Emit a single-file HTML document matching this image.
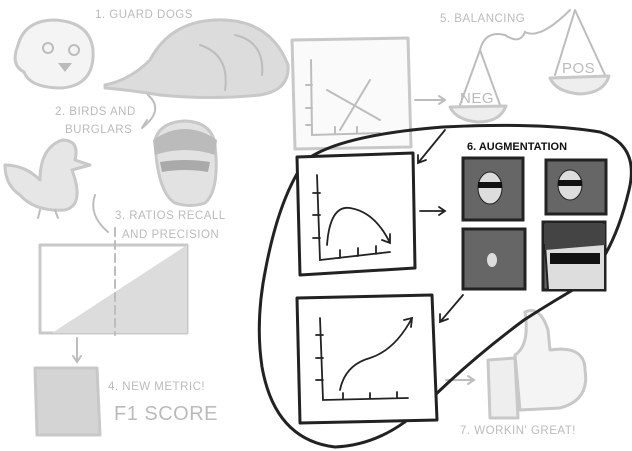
<!DOCTYPE html>
<html><head><meta charset="utf-8"><style>
html,body{margin:0;padding:0;background:#fff;}
svg{display:block;font-family:"Liberation Sans",sans-serif;}
.lt{fill:none;stroke:#c8c8c8;stroke-width:3;stroke-linecap:round;stroke-linejoin:round}
.lt2{fill:none;stroke:#bdbdbd;stroke-width:2;stroke-linecap:round}
.dk{fill:none;stroke:#222;stroke-width:3;stroke-linecap:round;stroke-linejoin:round}
.dk2{fill:none;stroke:#222;stroke-width:1.8;stroke-linecap:round}
.gt{fill:#bbb;font-size:11.5px;letter-spacing:0.5px}
</style></head><body>
<svg width="632" height="451" viewBox="0 0 632 451">
<text class="gt" x="95" y="18">1. GUARD DOGS</text>
<g>
<path class="lt" style="fill:#f4f4f4" d="M18,45 Q25,20 55,20 Q90,22 93,50 Q95,85 62,88 Q30,88 24,72 Q10,65 18,45Z"/>
<circle cx="48" cy="48" r="5" class="lt2"/><circle cx="74" cy="50" r="5" class="lt2"/>
<path d="M58,63 L72,63 L65,72Z" fill="#bbb"/>
</g>
<g>
<path class="lt" style="fill:#dcdcdc" d="M105,85 Q130,80 150,60 Q170,22 215,20 Q270,18 288,65 Q290,90 260,95 Q210,100 160,95 Q130,90 105,88Z"/>
<path class="lt2" d="M235,35 Q265,42 262,75 M200,45 Q230,55 225,90"/>
</g>
<g>
<path class="lt" style="fill:#fafafa" d="M292,40 L408,38 L411,147 L295,149Z"/>
<path class="lt2" d="M311,60 L312,135 L380,133 M312,85 L306,85 M312,108 L306,108 M312,125 L306,125 M335,133 L335,127 M357,133 L357,127"/>
<path class="lt2" d="M327,90 L380,120 M340,130 L370,80"/>
</g>
<path class="lt2" d="M415,100 L445,100 M439,96 L445,100 L439,104"/>
<text class="gt" x="440" y="22">5. BALANCING</text>
<g>
<path class="lt2" d="M480,50 Q485,30 505,35 Q520,45 525,32 Q540,40 570,10 M480,50 L460,105 M480,50 L500,105 M575,10 L555,75 M575,10 L605,75"/>
<path class="lt" style="fill:#eee" d="M450,107 L506,106 Q500,122 478,122 Q456,120 450,107Z"/>
<path class="lt" style="fill:#eee" d="M550,78 L609,76 Q604,93 580,94 Q556,92 550,78Z"/>
<text class="gt" style="font-size:15px" x="460" y="103">NEG</text>
<text class="gt" style="font-size:15px" x="562" y="73">POS</text>
</g>
<text class="gt" x="55" y="115">2. BIRDS AND</text>
<text class="gt" x="65" y="133">BURGLARS</text>
<path class="lt2" d="M148,95 Q165,110 142,128 M142,128 L147,120"/>
<g>
<path class="lt" style="fill:#e6e6e6" d="M5,165 Q25,165 40,180 Q40,148 62,140 Q80,140 75,160 L90,165 L72,170 Q85,205 65,210 Q35,212 20,195 Q5,185 5,165Z"/>
<path class="lt2" d="M40,210 L38,218 M55,210 L58,218"/>
</g>
<g>
<path class="lt" style="fill:#e2e2e2" d="M155,140 Q160,122 185,121 Q212,122 215,145 Q220,190 205,203 Q190,208 175,203 Q157,192 155,140Z"/>
<path d="M153,140 Q185,118 217,140 L215,155 Q185,145 155,155Z" fill="#bbb"/>
<path d="M160,162 Q185,158 210,162 L208,172 Q185,168 162,172Z" fill="#aaa"/>
</g>
<text class="gt" x="115" y="219">3. RATIOS RECALL</text>
<text class="gt" x="122" y="238">AND PRECISION</text>
<path class="lt2" d="M95,195 Q88,215 108,232"/>
<g>
<path class="lt" style="fill:#fff" d="M40,245 L187,245 L187,333 L40,333Z"/>
<path d="M52,333 L187,245 L187,333Z" fill="#dcdcdc"/>
<path class="lt2" d="M115,228 L115,335" stroke-dasharray="8,5"/>
</g>
<path class="lt2" d="M77,338 L77,362 M73,356 L77,362 L81,356"/>
<path class="lt" style="fill:#d4d4d4" d="M35,368 L97,368 L100,435 L37,435Z"/>
<text class="gt" x="108" y="390">4. NEW METRIC!</text>
<text class="gt" style="font-size:20px" x="114" y="420">F1 SCORE</text>
<g>
<path class="lt" style="fill:#f4f4f4" d="M525,312 Q540,305 548,330 L550,350 Q585,345 585,370 Q590,400 560,408 L520,410 L515,355 Q530,345 525,312Z"/>
<path class="lt" style="fill:#eee" d="M488,360 L515,358 L518,418 L490,418Z"/>
</g>
<path class="lt2" d="M446,380 L474,380 M468,376 L474,380 L468,384"/>
<text class="gt" x="460" y="434">7. WORKIN' GREAT!</text>
<path class="dk" d="M306,160 Q340,135 443,127 Q540,122 600,132 Q640,145 629,190 Q615,250 585,283 Q555,300 524,320 Q470,360 427,403 Q385,445 335,447 Q275,440 262,367 Q255,320 266,267 Q280,195 306,160Z"/>
<text x="467" y="150" font-size="11" font-weight="bold" fill="#111">6. AUGMENTATION</text>
<path class="dk2" d="M445,130 L418,163 M418,155 L418,163 L426,160"/>
<g>
<path class="dk" style="fill:#fff" d="M297,157 L413,153 L415,268 L300,275Z"/>
<path class="dk2" d="M317,175 L320,260 L390,252 M320,193 L313,193 M320,215 L313,215 M320,238 L313,238 M340,258 L340,250 M358,256 L358,248 M376,254 L376,246"/>
<path class="dk2" d="M327,245 Q330,205 350,208 Q375,212 390,243 M382,240 L390,243 L390,234"/>
</g>
<path class="dk2" d="M420,211 L445,211 M439,207 L445,211 L439,215"/>
<g>
<rect x="463" y="158" width="60" height="62" fill="#666" stroke="#222" stroke-width="3"/>
<ellipse cx="490" cy="188" rx="12" ry="16" fill="#ddd" stroke="#222"/><rect x="478" y="182" width="24" height="6" fill="#111"/>
</g>
<g>
<rect x="546" y="160" width="60" height="54" fill="#666" stroke="#222" stroke-width="3"/>
<ellipse cx="570" cy="185" rx="12" ry="15" fill="#ddd" stroke="#222"/><rect x="558" y="180" width="24" height="6" fill="#111"/>
</g>
<g>
<rect x="463" y="229" width="62" height="60" fill="#666" stroke="#222" stroke-width="3"/>
<ellipse cx="492" cy="260" rx="5" ry="7" fill="#ddd"/>
</g>
<g>
<rect x="543" y="222" width="62" height="68" fill="#666" stroke="#222" stroke-width="3"/>
<path d="M545,245 Q575,220 605,232 L605,290 L548,290Z" fill="#ddd" stroke="#222" stroke-width="2"/>
<path d="M545,224 L605,224 L605,245 L545,250Z" fill="#444"/>
<rect x="550" y="253" width="50" height="11" fill="#111"/>
</g>
<path class="dk2" d="M463,295 L440,322 M440,314 L440,322 L448,319"/>
<g>
<path class="dk" style="fill:#fff" d="M297,298 L432,295 L437,420 L300,423Z"/>
<path class="dk2" d="M320,318 L323,400 L408,398 M323,335 L316,335 M323,358 L316,358 M323,380 L316,380 M343,399 L343,393 M370,399 L370,393 M397,398 L397,392"/>
<path class="dk2" d="M340,390 Q345,365 370,358 Q395,350 412,318 M404,320 L412,318 L411,327"/>
</g>
</svg>
</body></html>
